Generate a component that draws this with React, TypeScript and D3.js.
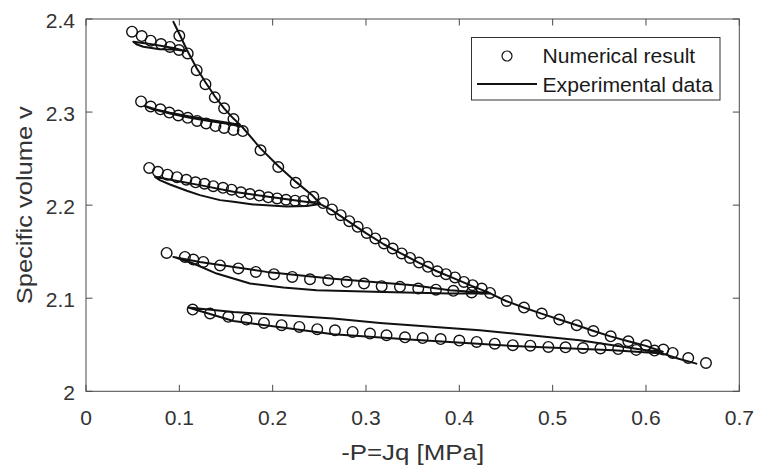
import React from "react";
import * as d3 from "d3";

type P = [number, number];

// x ticks / y ticks
const xTicks = [0, 0.1, 0.2, 0.3, 0.4, 0.5, 0.6, 0.7];
const yTicks = [2, 2.1, 2.2, 2.3, 2.4];
const xLabel = "-P=Jq [MPa]";
const yLabel = "Specific volume v";
const legendLabels = ["Numerical result", "Experimental data"];

// Numerical result (circles)
const numLoop1: P[] = [
  [0.0493, 2.3864], [0.0597, 2.3817], [0.0693, 2.3767], [0.0804, 2.3731], [0.09, 2.37], [0.0996, 2.3667],
];
const numLoop2: P[] = [
  [0.059, 2.3114], [0.0693, 2.306], [0.0797, 2.303], [0.0893, 2.2995], [0.0989, 2.2963], [0.109, 2.2938],
  [0.119, 2.2905], [0.1287, 2.2878], [0.1387, 2.285], [0.148, 2.283], [0.158, 2.2808],
];
const numLoop3: P[] = [
  [0.0677, 2.24], [0.0771, 2.2358], [0.0873, 2.2327], [0.0975, 2.2301], [0.1075, 2.2273], [0.1174, 2.2245],
  [0.127, 2.223], [0.1364, 2.2204], [0.1468, 2.2186], [0.156, 2.2166], [0.166, 2.2138], [0.1757, 2.212],
  [0.1857, 2.2103], [0.1953, 2.2084], [0.2048, 2.2072], [0.2143, 2.2058], [0.224, 2.2048], [0.2332, 2.2045],
];
const numLoop4: P[] = [
  [0.0864, 2.1487], [0.106, 2.1444], [0.115, 2.1416], [0.1257, 2.139], [0.1436, 2.1352], [0.1632, 2.132],
  [0.182, 2.1283], [0.2014, 2.1258], [0.221, 2.1229], [0.24, 2.1204], [0.2596, 2.1194], [0.2793, 2.1176],
  [0.2979, 2.1158], [0.3168, 2.1129], [0.3364, 2.1122], [0.356, 2.1104], [0.375, 2.1092], [0.3936, 2.108],
  [0.4132, 2.1062],
];
const numLoop5: P[] = [
  [0.1143, 2.0878], [0.1329, 2.0836], [0.1525, 2.08], [0.172, 2.0771], [0.1907, 2.0735], [0.2096, 2.071],
  [0.2286, 2.0692], [0.2478, 2.0667], [0.2668, 2.0656], [0.2857, 2.0638], [0.3043, 2.062], [0.322, 2.0602],
  [0.3418, 2.058], [0.3607, 2.0572], [0.38, 2.0561], [0.4, 2.0545], [0.4186, 2.053], [0.438, 2.0512],
  [0.4573, 2.0496], [0.4761, 2.049], [0.4954, 2.0477], [0.5138, 2.0473], [0.5325, 2.0465], [0.5512, 2.046],
  [0.5702, 2.0454], [0.5895, 2.0445], [0.6092, 2.0438],
];
const numNCL: P[] = [
  [0.1, 2.382], [0.109, 2.363], [0.1186, 2.345], [0.128, 2.33], [0.138, 2.3158], [0.148, 2.304],
  [0.158, 2.2925], [0.168, 2.2796], [0.187, 2.259], [0.206, 2.241], [0.2247, 2.224], [0.2436, 2.209],
  [0.254, 2.2022], [0.2636, 2.1954], [0.2729, 2.1892], [0.2821, 2.1828], [0.2911, 2.1767], [0.3008, 2.1702],
  [0.31, 2.1642], [0.3193, 2.1588], [0.3286, 2.1534], [0.3383, 2.1481], [0.3472, 2.1433], [0.3568, 2.1384],
  [0.3664, 2.1337], [0.3764, 2.129], [0.3857, 2.1258], [0.3954, 2.1223], [0.405, 2.1175], [0.4143, 2.114],
  [0.424, 2.1104], [0.4329, 2.1057], [0.4508, 2.0971], [0.4693, 2.09], [0.4883, 2.0835], [0.5071, 2.0771],
  [0.5258, 2.071], [0.5436, 2.0648], [0.5622, 2.0591], [0.5811, 2.0538], [0.6, 2.0495], [0.6186, 2.0448],
  [0.6286, 2.0412], [0.6453, 2.0358], [0.6643, 2.0304],
];

// Experimental data (lines)
const expLoop1: P[] = [
  [0.0507, 2.3756], [0.065, 2.3738], [0.08, 2.3712], [0.095, 2.3685], [0.107, 2.3655],
  [0.095, 2.3672], [0.079, 2.3674], [0.0614, 2.3702], [0.054, 2.3728], [0.0507, 2.3756],
];
const expMain: P[] = [
  [0.0936, 2.397], [0.101, 2.382], [0.108, 2.367], [0.1186, 2.347], [0.128, 2.332], [0.138, 2.317],
  [0.148, 2.304], [0.158, 2.293], [0.165, 2.2865],
  [0.15, 2.2888], [0.13, 2.292], [0.11, 2.2955], [0.09, 2.2993], [0.075, 2.3028], [0.063, 2.3065],
  [0.07, 2.3035], [0.09, 2.2985], [0.11, 2.2942], [0.13, 2.2906], [0.15, 2.2876], [0.167, 2.2845],
  [0.187, 2.261], [0.206, 2.242], [0.225, 2.225], [0.243, 2.21], [0.251, 2.2015],
  [0.229, 2.2045], [0.1936, 2.2092], [0.158, 2.2145], [0.122, 2.2215], [0.095, 2.2265], [0.074, 2.2304],
  [0.079, 2.2269], [0.09, 2.2222], [0.108, 2.2155], [0.122, 2.2108], [0.1436, 2.2054], [0.158, 2.2036],
  [0.179, 2.2008], [0.1936, 2.2], [0.215, 2.1985], [0.2365, 2.199], [0.251, 2.2012],
  [0.263, 2.195], [0.282, 2.182], [0.3, 2.17], [0.319, 2.158], [0.338, 2.148], [0.357, 2.138],
  [0.376, 2.129], [0.395, 2.121], [0.414, 2.113], [0.433, 2.1055],
  [0.39, 2.1086], [0.3507, 2.114], [0.265, 2.121], [0.1936, 2.1283], [0.122, 2.139], [0.0936, 2.1444],
  [0.115, 2.1373], [0.14, 2.1265], [0.1757, 2.1158], [0.2114, 2.1115], [0.2471, 2.1086], [0.3186, 2.1068],
  [0.39, 2.105], [0.433, 2.1052],
  [0.45, 2.097], [0.469, 2.09], [0.488, 2.0835], [0.507, 2.0771], [0.526, 2.071], [0.544, 2.0648],
  [0.562, 2.059], [0.581, 2.0538], [0.6, 2.0488], [0.618, 2.0425],
  [0.6, 2.0441], [0.529, 2.0548], [0.422, 2.0656], [0.315, 2.0735], [0.265, 2.0782], [0.158, 2.0853],
  [0.1096, 2.09],
  [0.158, 2.0755], [0.265, 2.0612], [0.3507, 2.0555], [0.458, 2.0487], [0.565, 2.0442], [0.618, 2.0405],
  [0.635, 2.035], [0.654, 2.0297],
];

const numericalSeries = [numLoop1, numLoop2, numLoop3, numLoop4, numLoop5, numNCL];
const experimentalSeries = [expLoop1, expMain];

const W = 759;
const H = 472;
const FONT = "'Liberation Sans', Arial, Helvetica, sans-serif";
const AX = "#333333";

export default function App() {
  const x = d3.scaleLinear().domain([0, 0.7]).range([86, 739.3]);
  const y = d3.scaleLinear().domain([2, 2.4]).range([391.3, 19]);
  const [x0, x1] = x.range();
  const [yb, yt] = y.range();
  const line = d3
    .line<P>()
    .x((d) => x(d[0]))
    .y((d) => y(d[1]))
    .curve(d3.curveLinear);
  const tl = 6.5;
  const fmt = (t: number) => String(+t.toFixed(1));

  return (
    <svg
      width={W}
      height={H}
      style={{ position: "absolute", left: 0, top: 0, background: "#fff" }}
      fontFamily={FONT}
    >
      <rect x={0} y={0} width={W} height={H} fill="#fff" />
      {/* data */}
      <g fill="none" stroke="#111" strokeWidth={2} strokeLinejoin="round" strokeLinecap="round">
        {experimentalSeries.map((s, i) => (
          <path key={i} d={line(s) || ""} />
        ))}
      </g>
      <g fill="none" stroke="#111" strokeWidth={1.4}>
        {numericalSeries.map((s, i) =>
          s.map((d, j) => <circle key={i + "-" + j} cx={x(d[0])} cy={y(d[1])} r={5.3} />)
        )}
      </g>
      {/* axes box */}
      <g stroke="#4a4a4a" strokeWidth={1} fill="none">
        <rect x={x0} y={yt} width={x1 - x0} height={yb - yt} />
        {xTicks.map((t) => (
          <g key={"xt" + t}>
            <line x1={x(t)} x2={x(t)} y1={yb} y2={yb - tl} />
            <line x1={x(t)} x2={x(t)} y1={yt} y2={yt + tl} />
          </g>
        ))}
        {yTicks.map((t) => (
          <g key={"yt" + t}>
            <line x1={x0} x2={x0 + tl} y1={y(t)} y2={y(t)} />
            <line x1={x1} x2={x1 - tl} y1={y(t)} y2={y(t)} />
          </g>
        ))}
      </g>
      <g fill={AX} fontSize={19.5}>
        {xTicks.map((t) => (
          <text key={"xl" + t} textAnchor="middle" transform={`translate(${x(t)},425) scale(1.08,1)`}>
            {fmt(t)}
          </text>
        ))}
        {yTicks.map((t) => (
          <text key={"yl" + t} textAnchor="end" transform={`translate(75,${y(t) + 9}) scale(1.08,1)`}>
            {fmt(t)}
          </text>
        ))}
      </g>
      <text
        x={(x0 + x1) / 2}
        y={460}
        textAnchor="middle"
        fontSize={22}
        fill={AX}
        textLength={143}
        lengthAdjust="spacingAndGlyphs"
      >
        {xLabel}
      </text>
      <text
        transform={`translate(32,${(yt + yb) / 2}) rotate(-90)`}
        textAnchor="middle"
        fontSize={22.5}
        fill={AX}
        textLength={198}
        lengthAdjust="spacingAndGlyphs"
      >
        {yLabel}
      </text>
      {/* legend */}
      <g>
        <rect x={471.5} y={37.5} width={248.5} height={62.5} fill="#fff" stroke="#333" strokeWidth={1} />
        <circle cx={507} cy={56} r={5} fill="none" stroke="#111" strokeWidth={1.2} />
        <line x1={477} x2={537} y1={84} y2={84} stroke="#111" strokeWidth={2} />
        <g fill="#1a1a1a" fontSize={19.5}>
          <text transform="translate(542.5,63.3) scale(1.085,1)">{legendLabels[0]}</text>
          <text transform="translate(542.5,91.5) scale(1.085,1)">{legendLabels[1]}</text>
        </g>
      </g>
    </svg>
  );
}
